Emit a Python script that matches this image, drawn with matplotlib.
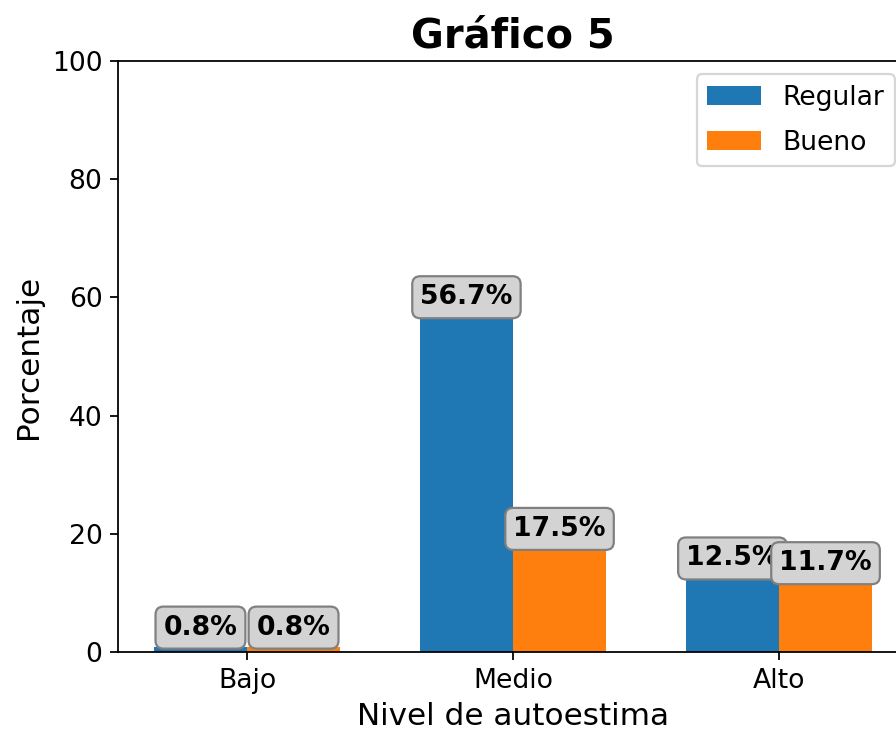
import matplotlib
matplotlib.use("Agg")
import matplotlib.pyplot as plt
import numpy as np

categories = ["Bajo", "Medio", "Alto"]
regular = [0.8, 56.7, 12.5]
bueno = [0.8, 17.5, 11.7]
series_names = ["Regular", "Bueno"]

fig = plt.figure(figsize=(5.6, 4.5625), dpi=160)
ax = fig.add_axes([118/896, 1 - 652/730, (908 - 118)/896, 591/730])

x = np.arange(len(categories))
w = 0.35
b1 = ax.bar(x - w/2, regular, w, label=series_names[0], color="#1f77b4")
b2 = ax.bar(x + w/2, bueno, w, label=series_names[1], color="#ff7f0e")

for bars in (b1, b2):
    for rect in bars:
        h = rect.get_height()
        ax.annotate(f"{h:.1f}%", xy=(rect.get_x() + rect.get_width()/2, h),
                    xytext=(0, 3), textcoords="offset points",
                    ha="center", va="bottom", fontsize=12, fontweight="bold",
                    bbox=dict(boxstyle="round,pad=0.3", fc="lightgray", ec="gray", alpha=1))

ax.set_ylim(0, 100)
ax.set_xticks(x)
ax.set_xticklabels(categories)
ax.tick_params(labelsize=12)
ax.set_xlabel("Nivel de autoestima", fontsize=14)
ax.set_ylabel("Porcentaje", fontsize=14)
ax.set_title("Gráfico 5", fontsize=18, fontweight="bold")
ax.legend(fontsize=12, loc="upper right", labelspacing=0.7)

fig.savefig("out.png", dpi=160)
